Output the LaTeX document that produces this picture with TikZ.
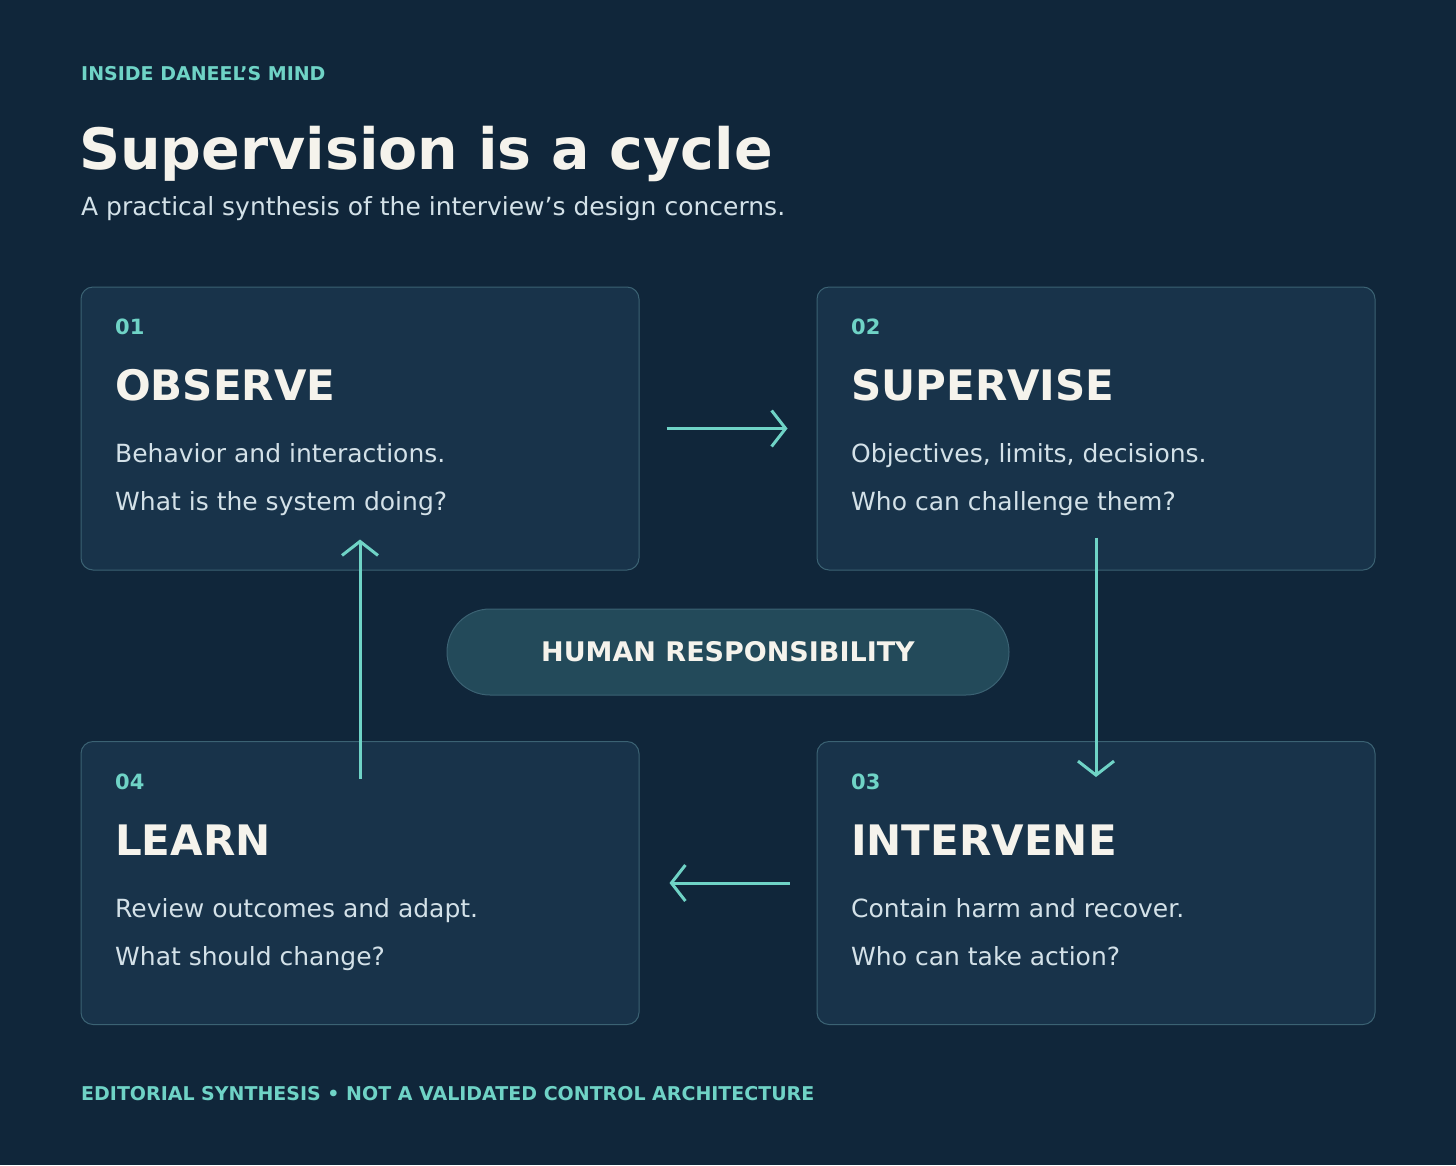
\documentclass[tikz,border=0pt]{standalone}
\usepackage{fontspec}
\setmainfont{DejaVu Sans}
\usetikzlibrary{arrows.meta}
\definecolor{bgc}{HTML}{10263A}
\definecolor{boxc}{HTML}{18334A}
\definecolor{edgec}{HTML}{3B6273}
\definecolor{pillc}{HTML}{234A5A}
\definecolor{tealc}{HTML}{6FD3C6}
\definecolor{bodyc}{HTML}{D3E1E8}
\definecolor{whitec}{HTML}{F5F3EC}
\tikzset{
stage/.style={draw=edgec, line width=1pt, fill=boxc, rounded corners=12pt,
  minimum width=558pt, minimum height=283pt, inner sep=0pt},
num/.style={anchor=base west, inner sep=0pt, text=tealc, font=\bfseries\fontsize{21}{24}\selectfont},
head/.style={anchor=base west, inner sep=0pt, text=whitec, font=\bfseries\fontsize{42}{48}\selectfont},
body/.style={anchor=base west, inner sep=0pt, text=bodyc, font=\fontsize{25}{30}\selectfont},
flow/.style={draw=tealc, line width=3pt, -{Straight Barb[length=14pt,width=36pt,line width=3pt]}},
}
\begin{document}
\begin{tikzpicture}[x=1pt,y=-1pt]
\fill[bgc] (0,0) rectangle (1456,1165);
\useasboundingbox (0,0) rectangle (1456,1165);

% header
\node[anchor=base west, inner sep=0pt, text=tealc, font=\bfseries\fontsize{19}{22}\selectfont] (kicker) at (81,80) {INSIDE DANEEL’S MIND};
\node[anchor=base west, inner sep=0pt, text=whitec, font=\bfseries\fontsize{57}{64}\selectfont] (title) at (79,169) {Supervision is a cycle};
\node[anchor=base west, inner sep=0pt, text=bodyc, font=\fontsize{25}{30}\selectfont] (sub) at (81,215) {A practical synthesis of the interview’s design concerns.};

% the four stages
\node[stage] (obs) at (360,428.5) {};
\node[stage] (sup) at (1096,428.5) {};
\node[stage] (lrn) at (360,883) {};
\node[stage] (itv) at (1096,883) {};

\node[num] at (115,334) {01};
\node[head] at (115,400) {OBSERVE};
\node[body] at (115,462) {Behavior and interactions.};
\node[body] at (115,510) {What is the system doing?};

\node[num] at (851,334) {02};
\node[head] at (851,400) {SUPERVISE};
\node[body] at (851,462) {Objectives, limits, decisions.};
\node[body] at (851,510) {Who can challenge them?};

\node[num] at (115,789) {04};
\node[head] at (115,855) {LEARN};
\node[body] at (115,917) {Review outcomes and adapt.};
\node[body] at (115,965) {What should change?};

\node[num] at (851,789) {03};
\node[head] at (851,855) {INTERVENE};
\node[body] at (851,917) {Contain harm and recover.};
\node[body] at (851,965) {Who can take action?};

% centre
\node[draw=edgec, line width=1pt, fill=pillc, rounded corners=43pt, minimum width=562pt,
  minimum height=86pt, text=whitec, font=\bfseries\fontsize{27}{32}\selectfont] (human) at (728,652) {HUMAN RESPONSIBILITY};

% cycle
\draw[flow] ([xshift=27pt]obs.east) -- ([xshift=-29pt]sup.west);
\draw[flow] ([yshift=33pt]sup.south) -- ([yshift=-36pt]itv.north);
\draw[flow] ([xshift=-27pt]itv.west) -- ([xshift=30pt]lrn.east);
\draw[flow] ([yshift=-38pt]lrn.north) -- ([yshift=31pt]obs.south);

% footer
\node[anchor=base west, inner sep=0pt, text=tealc, font=\bfseries\fontsize{19}{22}\selectfont] (foot) at (81,1100) {EDITORIAL SYNTHESIS • NOT A VALIDATED CONTROL ARCHITECTURE};
\end{tikzpicture}
\end{document}
